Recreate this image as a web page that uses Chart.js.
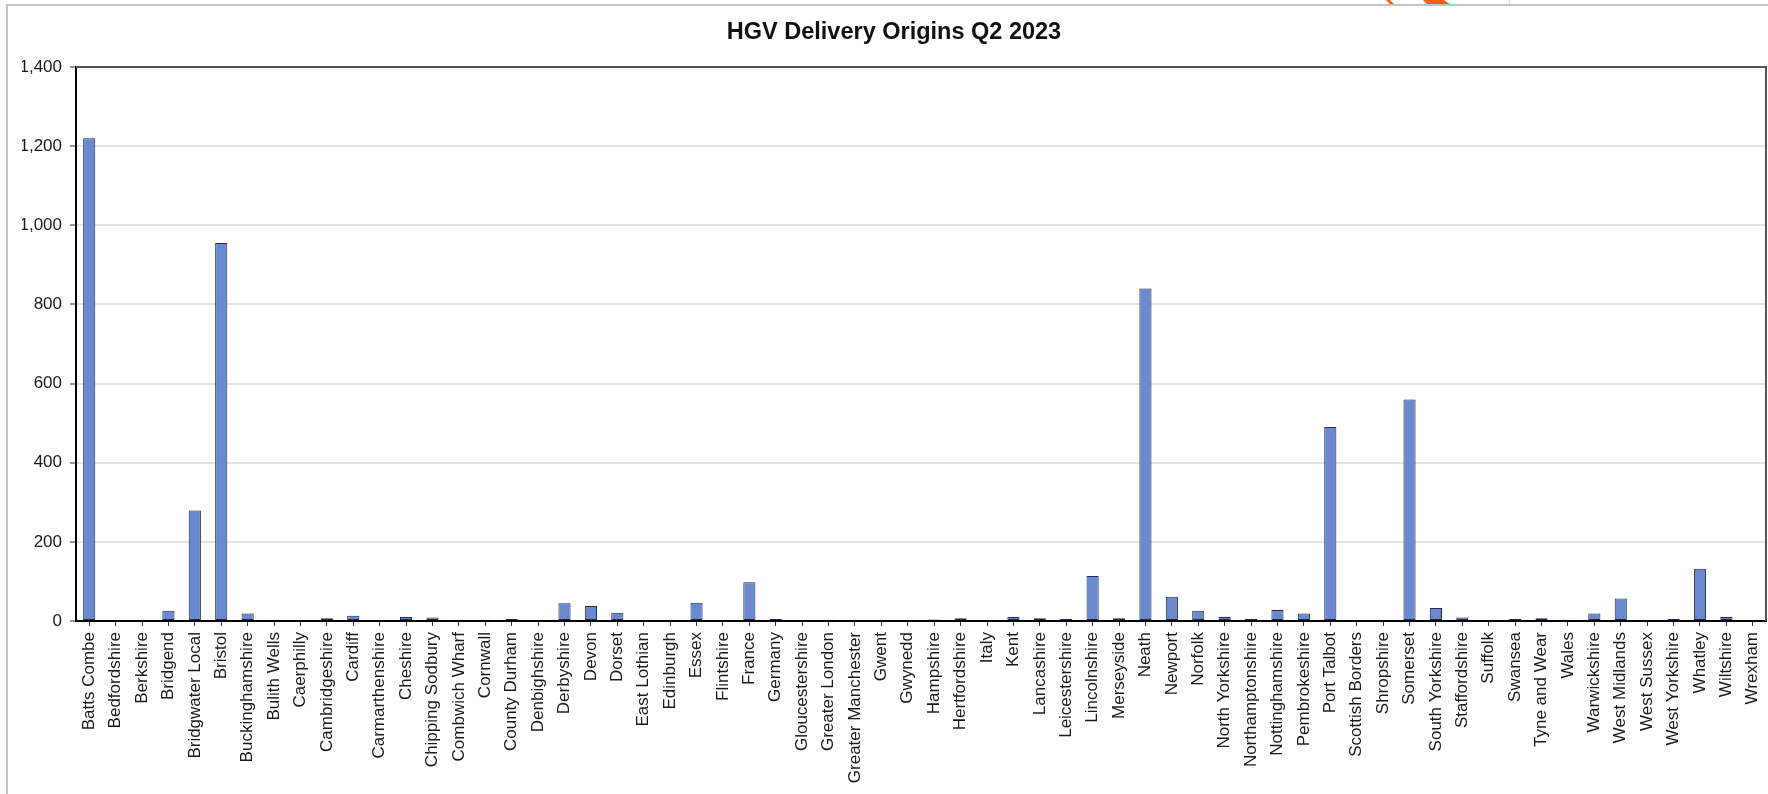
<!DOCTYPE html>
<html>
<head>
<meta charset="utf-8">
<title>HGV Delivery Origins Q2 2023</title>
<script src="https://cdn.jsdelivr.net/npm/chart.js@4/dist/chart.umd.min.js"></script>
<style>
  html, body { margin: 0; padding: 0; background: #ffffff; overflow: hidden; }
  #wrap { position: relative; width: 1768px; height: 794px; }
  canvas { display: block; }
</style>
</head>
<body>
<div id="wrap"><canvas id="chart" width="1768" height="794"></canvas></div>
<script>
// Origin areas (x categories)
const origins = [
  'Batts Combe', 'Bedfordshire', 'Berkshire', 'Bridgend', 'Bridgwater Local', 'Bristol',
  'Buckinghamshire', 'Bulith Wells', 'Caerphilly', 'Cambridgeshire', 'Cardiff', 'Carmarthenshire',
  'Cheshire', 'Chipping Sodbury', 'Combwich Wharf', 'Cornwall', 'County Durham', 'Denbighshire',
  'Derbyshire', 'Devon', 'Dorset', 'East Lothian', 'Edinburgh', 'Essex', 'Flintshire', 'France',
  'Germany', 'Gloucestershire', 'Greater London', 'Greater Manchester', 'Gwent', 'Gwynedd',
  'Hampshire', 'Hertfordshire', 'Italy', 'Kent', 'Lancashire', 'Leicestershire', 'Lincolnshire',
  'Merseyside', 'Neath', 'Newport', 'Norfolk', 'North Yorkshire', 'Northamptonshire',
  'Nottinghamshire', 'Pembrokeshire', 'Port Talbot', 'Scottish Borders', 'Shropshire', 'Somerset',
  'South Yorkshire', 'Staffordshire', 'Suffolk', 'Swansea', 'Tyne and Wear', 'Wales',
  'Warwickshire', 'West Midlands', 'West Sussex', 'West Yorkshire', 'Whatley', 'Wiltshire', 'Wrexham'
];

// HGV deliveries per origin
const deliveries = [
  1220, 0, 0, 26, 279, 955,
  19, 3, 0, 7, 13, 0,
  10, 9, 3, 3, 5, 0,
  45, 38, 21, 0, 0, 46, 0, 98,
  5, 0, 3, 0, 0, 0,
  4, 7, 0, 10, 7, 5, 114,
  7, 840, 61, 26, 10, 5,
  28, 19, 490, 0, 0, 560,
  33, 9, 0, 5, 7, 3,
  19, 57, 0, 5, 132, 10, 0
];

// Value axis ticks
const yTicks = [0, 200, 400, 600, 800, 1000, 1200, 1400];

const FONT = "'Liberation Sans', Arial, Helvetica, sans-serif";

// Page frame, plot box and the cropped logo edge at the top
const framePlugin = {
  id: 'frame',
  beforeDraw(chart) {
    const ctx = chart.ctx;
    ctx.save();
    ctx.fillStyle = '#ffffff';
    ctx.fillRect(0, 0, chart.width, chart.height);
    // logo fragment
    ctx.fillStyle = '#ff5a0f';
    ctx.beginPath();
    ctx.moveTo(1386, 0); ctx.lineTo(1390, 0); ctx.lineTo(1395, 5); ctx.lineTo(1391, 5);
    ctx.closePath(); ctx.fill();
    ctx.beginPath();
    ctx.moveTo(1423, 0); ctx.lineTo(1444, 0); ctx.lineTo(1451, 5); ctx.lineTo(1428, 5);
    ctx.closePath(); ctx.fill();
    ctx.strokeStyle = '#f6d0d0';
    ctx.lineWidth = 1;
    ctx.beginPath(); ctx.moveTo(1509.5, 0); ctx.lineTo(1509.5, 5); ctx.stroke();
    // outer frame
    ctx.strokeStyle = '#c4c4c4';
    ctx.lineWidth = 2;
    ctx.beginPath();
    ctx.moveTo(7, chart.height);
    ctx.lineTo(7, 5);
    ctx.lineTo(chart.width, 5);
    ctx.stroke();
    ctx.restore();
  },
  afterDraw(chart) {
    const a = chart.chartArea;
    const ctx = chart.ctx;
    ctx.save();
    ctx.strokeStyle = '#555555';
    ctx.lineWidth = 2;
    ctx.beginPath();
    ctx.moveTo(a.left, a.top);
    ctx.lineTo(a.right, a.top);
    ctx.lineTo(a.right, a.bottom);
    ctx.stroke();
    ctx.restore();
  }
};

new Chart(document.getElementById('chart'), {
  type: 'bar',
  data: {
    labels: origins,
    datasets: [{
      label: 'HGV deliveries',
      data: deliveries,
      backgroundColor: '#6a89ce',
      borderColor: '#1f2b4d',
      borderWidth: 1,
      borderSkipped: false,
      barPercentage: 0.46,
      categoryPercentage: 1.0
    }]
  },
  options: {
    responsive: false,
    devicePixelRatio: 1,
    animation: false,
    layout: { padding: { left: 22, right: 2, top: 0, bottom: 0 } },
    plugins: {
      legend: { display: false },
      tooltip: { enabled: false },
      title: {
        display: true,
        text: 'HGV Delivery Origins Q2 2023',
        color: '#111111',
        font: { family: FONT, size: 23.5, weight: 'bold', lineHeight: 1.2 },
        padding: { top: 18.7, bottom: 20.1 }
      }
    },
    scales: {
      x: {
        offset: true,
        grid: {
          offset: false,
          drawOnChartArea: false,
          drawTicks: true,
          tickLength: 5,
          tickColor: '#333333',
          tickWidth: 1
        },
        border: { color: '#000000', width: 2 },
        ticks: {
          autoSkip: false,
          minRotation: 90,
          maxRotation: 90,
          padding: 6,
          color: '#1a1a1a',
          font: { family: FONT, size: 17 }
        },
        afterFit(scale) {
          scale.height = 173;
          scale.paddingLeft = 0;
          scale.paddingRight = 0;
        }
      },
      y: {
        min: 0,
        max: 1400,
        afterBuildTicks(scale) {
          scale.ticks = yTicks.map(v => ({ value: v }));
        },
        grid: {
          color: '#e4e4e4',
          lineWidth: 2,
          drawTicks: true,
          tickLength: 6,
          tickColor: '#333333',
          tickWidth: 1
        },
        border: { color: '#000000', width: 2 },
        ticks: {
          padding: 8,
          color: '#1a1a1a',
          font: { family: FONT, size: 17 },
          callback: v => Number(v).toLocaleString('en-US')
        },
        afterFit(scale) {
          scale.width = 54;
        }
      }
    }
  },
  plugins: [framePlugin]
});
</script>
</body>
</html>
